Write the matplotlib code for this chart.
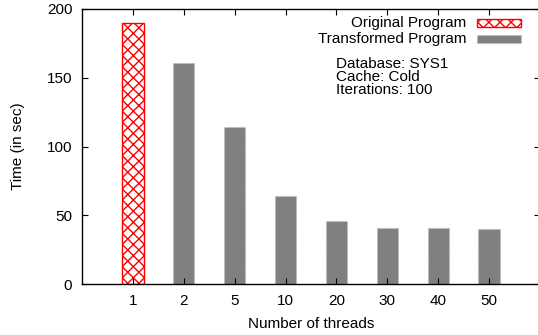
import matplotlib
matplotlib.use("Agg")
import matplotlib.pyplot as plt
from matplotlib.patches import Rectangle

plt.rcParams['font.family'] = ['Liberation Sans', 'DejaVu Sans']
plt.rcParams['hatch.linewidth'] = 1.0
plt.rcParams['hatch.color'] = '#ff0000'

threads = ["1", "2", "5", "10", "20", "30", "40", "50"]
original_vals = [190]
transformed_vals = [161, 114, 64, 46, 41, 41, 40]
yticks = [0, 50, 100, 150, 200]

FS = 11

fig = plt.figure(figsize=(5.38, 3.35), dpi=100)
ax = fig.add_axes([82/538, 51/335, 458/538, 275/335])

xs = list(range(len(threads)))
w = 0.42
ax.bar(xs[:1], original_vals, width=w, facecolor='white', edgecolor='#ff0000',
       hatch='xxx', linewidth=1.0, label='Original Program')
ax.bar(xs[1:], transformed_vals, width=w, facecolor='#808080', edgecolor='#bbbbbb',
       linestyle=':', linewidth=0.8, label='Transformed Program')

ax.set_xlim(-1, 8)
ax.set_ylim(0, 200)
ax.set_xticks(xs)
ax.set_xticklabels(threads)
ax.set_yticks(yticks)
ax.tick_params(direction='in', length=4, width=0.8, labelsize=FS,
               top=True, right=True, colors='black')
ax.tick_params(axis='y', pad=7)
ax.tick_params(axis='x', pad=7)
for s in ax.spines.values():
    s.set_linewidth(1.0)

ax.set_xlabel("Number of threads", fontsize=FS, labelpad=7)
ax.set_ylabel("Time (in sec)", fontsize=FS, labelpad=16)

# legend (gnuplot style: right-aligned text, swatch at right)
txt_x = 466
sw_x0, sw_x1 = 477, 521
rows = [(23, 'Original Program'), (39, 'Transformed Program')]
for i, (yy, lab) in enumerate(rows):
    fig.text(txt_x/538, 1 - yy/335, lab, ha='right', va='center', fontsize=FS)
    if i == 0:
        r = Rectangle((sw_x0/538, 1 - (yy+4)/335), (sw_x1-sw_x0)/538, 8/335,
                      transform=fig.transFigure, facecolor='white',
                      edgecolor='#ff0000', hatch='xxx', linewidth=1.0)
    else:
        r = Rectangle((sw_x0/538, 1 - (yy+4)/335), (sw_x1-sw_x0)/538, 8/335,
                      transform=fig.transFigure, facecolor='#808080',
                      edgecolor='#bbbbbb', linestyle=':', linewidth=0.8)
    fig.patches.append(r)

info = ["Database: SYS1", "Cache: Cold", "Iterations: 100"]
for i, t in enumerate(info):
    fig.text(336/538, 1 - (64 + 13*i)/335, t, ha='left', va='center', fontsize=FS)

fig.savefig("out.png", dpi=100)
